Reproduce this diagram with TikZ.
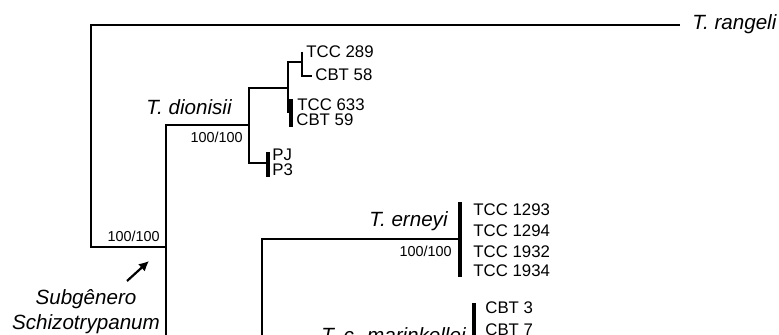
\documentclass[tikz,border=0pt]{standalone}
\usepackage{fontspec}
\setmainfont{Liberation Sans}
\usetikzlibrary{arrows.meta}

\begin{document}
\begin{tikzpicture}[
    x=0.5pt, y=-0.5pt,
    >={Latex[length=5pt,width=5pt]},
    % tree styles
    branch/.style={line width=1.35pt},
    clade/.style={line width=1.7pt},
    species/.style={font=\fontsize{10.3}{12}\selectfont\itshape, inner sep=0},
    leaf/.style={font=\fontsize{8.4}{10}\selectfont, inner sep=0, anchor=west},
    support/.style={font=\fontsize{7.2}{9}\selectfont, inner sep=0, anchor=base east}
  ]
  \useasboundingbox (0,0) rectangle (779,335);
  \clip (0,0) rectangle (779,335);

  % Internal nodes
  \coordinate (root) at (91,247);
  \coordinate (schizo) at (166,247);
  \coordinate (schizoEnd) at (166,345);
  \coordinate (rangEnd) at (680,25);
  \coordinate (dion) at (249,125);
  \coordinate (dA) at (288,88);
  \coordinate (dB) at (291,112);
  \coordinate (dC) at (302,62);
  \coordinate (dPJ) at (268,163);
  \coordinate (ern) at (460,239);
  \coordinate (cruziEnd) at (262,345);
  % Leaf bars
  \coordinate (tcc289) at (302,52);
  \coordinate (cbt58) at (312,76);
  \coordinate (dBtop) at (291,99);
  \coordinate (dBbot) at (291,127);
  \coordinate (pjTop) at (268,152);
  \coordinate (pjBot) at (268,177);
  \coordinate (ernTop) at (460,202);
  \coordinate (ernBot) at (460,277);
  \coordinate (marTop) at (474,303);
  \coordinate (marBot) at (474,345);

  % Branches
  \draw[branch] (rangEnd) -| (root) -- (schizo);
  \draw[branch] (dion) -| (schizoEnd);
  \draw[branch] (dA) -| (dion) |- (dPJ);
  \draw[branch] (dC) -| (dA) |- (dB);
  \draw[branch] (tcc289) |- (cbt58);
  \draw[branch] (ern) -| (cruziEnd);
  \draw[clade] (dBtop) -- (dBbot);
  \draw[clade] (pjTop) -- (pjBot);
  \draw[clade] (ernTop) -- (ernBot);
  \draw[clade] (marTop) -- (marBot);

  % Species names
  \node[species, anchor=base west] (rangeli) at (692,30) {T. rangeli};
  \node[species, anchor=base east] (dionisii) at (232,115) {T. dionisii};
  \node[species, anchor=base east] (erneyi) at (448,227) {T. erneyi};
  \node[species, anchor=base east] (marinkellei) at (466,343) {T. c. marinkellei};

  % Bootstrap support
  \node[support] (suppRoot) at (160,242) {100/100};
  \node[support] (suppDion) at (243,143) {100/100};
  \node[support] (suppErn) at (452,257) {100/100};

  % Isolates
  \node[leaf] (l289) at (306,52) {TCC 289};
  \node[leaf] (l58) at (315,75) {CBT 58};
  \node[leaf] (l633) at (297,105) {TCC 633};
  \node[leaf] (l59) at (296,120) {CBT 59};
  \node[leaf] (lPJ) at (272,155) {PJ};
  \node[leaf] (lP3) at (272,170) {P3};
  \node[leaf] (l1293) at (473,209.5) {TCC 1293};
  \node[leaf] (l1294) at (473,231) {TCC 1294};
  \node[leaf] (l1932) at (473,252) {TCC 1932};
  \node[leaf] (l1934) at (473,271) {TCC 1934};
  \node[leaf] (lCBT3) at (485,308) {CBT 3};
  \node[leaf] (lCBT7) at (485,330) {CBT 7};

  % Subgenus mark
  \node[species, anchor=base] (subg) at (86,305) {Subgênero};
  \node[species, anchor=base] (schizoName) at (86,329) {Schizotrypanum};
  \coordinate (arrTail) at (127,281);
  \coordinate (arrHead) at (149,261);
  \draw[->, line width=1.1pt] (arrTail) -- (arrHead);
\end{tikzpicture}
\end{document}
